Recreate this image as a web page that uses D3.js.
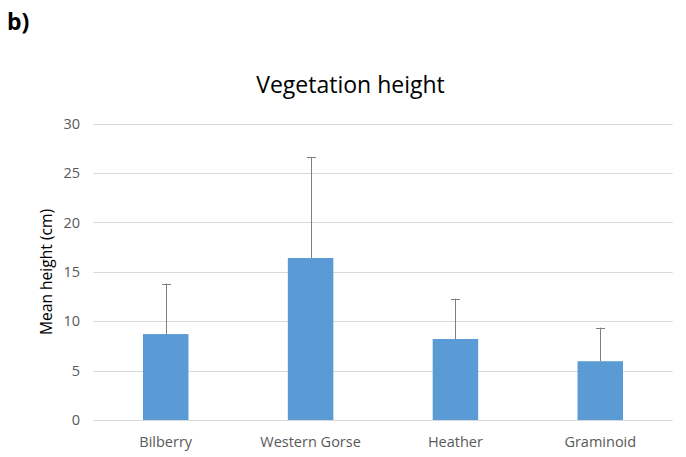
<!DOCTYPE html>
<html>
<head>
<meta charset="utf-8">
<script src="https://cdn.jsdelivr.net/npm/d3@7"></script>
<style>
  body { margin: 0; background: #fff; }
  text { font-family: "Open Sans", sans-serif; }
</style>
</head>
<body>
<div id="chart"></div>
<script>
const categories = ["Bilberry", "Western Gorse", "Heather", "Graminoid"];
const means = [8.7, 16.4, 8.2, 5.95];
const errors = [5.1, 10.2, 4.1, 3.4];
const yTicks = [0, 5, 10, 15, 20, 25, 30];

const width = 686, height = 457;
const margin = { top: 123.7, right: 13.3, bottom: 37, left: 93.3 };

const svg = d3.select("#chart").append("svg")
    .attr("width", width)
    .attr("height", height);

const x = d3.scaleBand()
    .domain(categories)
    .range([margin.left, width - margin.right])
    .paddingInner(0.686)
    .paddingOuter(0.343);

const y = d3.scaleLinear()
    .domain([0, 30])
    .range([height - margin.bottom, margin.top]);

// gridlines
svg.append("g")
  .selectAll("line")
  .data(yTicks)
  .join("line")
    .attr("x1", margin.left)
    .attr("x2", width - margin.right)
    .attr("y1", d => Math.round(y(d)) + 0.5)
    .attr("y2", d => Math.round(y(d)) + 0.5)
    .attr("stroke", "#d9d9d9")
    .attr("stroke-width", 1);

// y tick labels
svg.append("g")
  .selectAll("text")
  .data(yTicks)
  .join("text")
    .attr("x", 80)
    .attr("y", d => y(d))
    .attr("dy", "0.35em")
    .attr("text-anchor", "end")
    .attr("font-size", 14.5)
    .attr("fill", "#595959")
    .text(d => d);

// bars
svg.append("g")
  .selectAll("rect")
  .data(means)
  .join("rect")
    .attr("x", (d, i) => x(categories[i]))
    .attr("y", d => y(d))
    .attr("width", x.bandwidth())
    .attr("height", d => y(0) - y(d))
    .attr("fill", "#5b9bd5");

// error bars (upper only)
const err = svg.append("g")
    .attr("stroke", "#7f7f7f")
    .attr("stroke-width", 1);

err.selectAll("line.stem")
  .data(means)
  .join("line")
    .attr("class", "stem")
    .attr("x1", (d, i) => Math.round(x(categories[i]) + x.bandwidth() / 2) + 0.5)
    .attr("x2", (d, i) => Math.round(x(categories[i]) + x.bandwidth() / 2) + 0.5)
    .attr("y1", d => y(d))
    .attr("y2", (d, i) => y(d + errors[i]));

err.selectAll("line.cap")
  .data(means)
  .join("line")
    .attr("class", "cap")
    .attr("x1", (d, i) => Math.round(x(categories[i]) + x.bandwidth() / 2) - 4)
    .attr("x2", (d, i) => Math.round(x(categories[i]) + x.bandwidth() / 2) + 5)
    .attr("y1", (d, i) => Math.round(y(d + errors[i])) + 0.5)
    .attr("y2", (d, i) => Math.round(y(d + errors[i])) + 0.5);

// category labels
svg.append("g")
  .selectAll("text")
  .data(categories)
  .join("text")
    .attr("x", d => x(d) + x.bandwidth() / 2)
    .attr("y", 447)
    .attr("text-anchor", "middle")
    .attr("font-size", 14.5)
    .attr("fill", "#595959")
    .text(d => d);

// y axis title
svg.append("text")
    .attr("transform", "translate(52,272) rotate(-90)")
    .attr("text-anchor", "middle")
    .attr("font-size", 15.6)
    .attr("fill", "#000")
    .text("Mean height (cm)");

// chart title
svg.append("text")
    .attr("x", 350.5)
    .attr("y", 92.5)
    .attr("text-anchor", "middle")
    .attr("font-size", 23)
    .attr("fill", "#000")
    .text("Vegetation height");

// panel label
svg.append("text")
    .attr("x", 7)
    .attr("y", 30)
    .attr("font-size", 23)
    .attr("font-weight", "bold")
    .attr("fill", "#000")
    .text("b)");
</script>
</body>
</html>
